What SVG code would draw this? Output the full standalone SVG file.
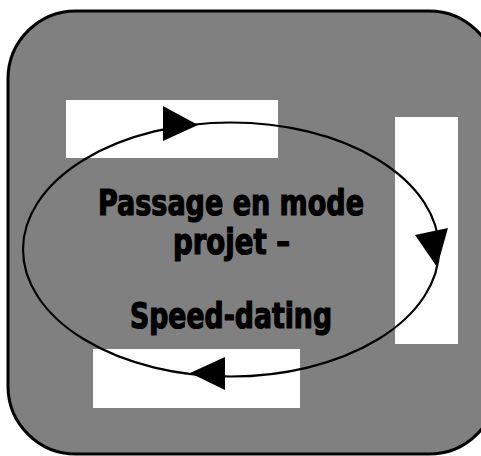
<svg xmlns="http://www.w3.org/2000/svg" width="481" height="456" viewBox="0 0 481 456">
<style>
.box{fill:#ffffff;stroke:none}
.lbl{font-family:"Liberation Sans Narrow","DejaVu Sans Condensed","Liberation Sans",sans-serif;font-weight:bold;font-size:36px;fill:#000;stroke:#000;stroke-width:1.2}
.arr{fill:#000}
</style>
<g id="background">
<rect x="8" y="11" width="489" height="443" rx="68" ry="68" fill="#808080" stroke="#000" stroke-width="3"/>
</g>
<g id="box-top"><rect class="box" x="66" y="100" width="212" height="58"/></g>
<g id="box-right"><rect class="box" x="395" y="117" width="63" height="227"/></g>
<g id="box-bottom"><rect class="box" x="93" y="349" width="207" height="59"/></g>
<g id="connectors">
<ellipse cx="231" cy="249.5" rx="208" ry="127" fill="none" stroke="#000" stroke-width="2.2"/>
<polygon class="arr" points="163,106 198,125 163,141"/>
<polygon class="arr" points="415,235 448,228 437,267"/>
<polygon class="arr" points="190,373 225,357 225,390"/>
</g>
<g id="label">
<text class="lbl" x="231" y="215" text-anchor="middle" textLength="266" lengthAdjust="spacingAndGlyphs">Passage en mode</text>
<text class="lbl" x="231.5" y="254" text-anchor="middle" textLength="117" lengthAdjust="spacingAndGlyphs">projet –</text>
<text class="lbl" x="231" y="328" text-anchor="middle" textLength="202" lengthAdjust="spacingAndGlyphs">Speed-dating</text>
</g>
</svg>
